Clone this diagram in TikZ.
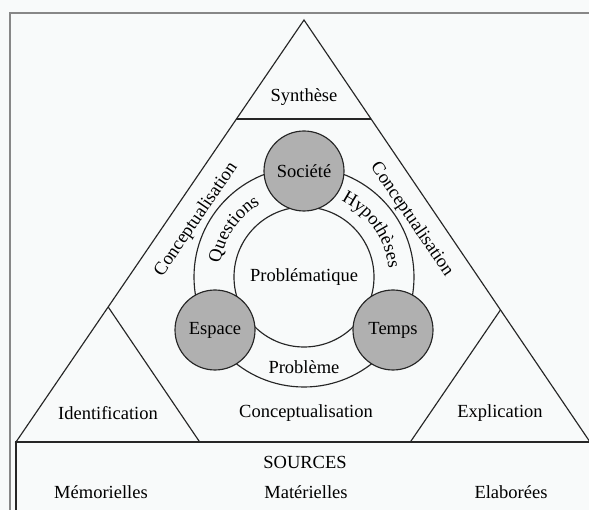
\documentclass[tikz,border=0pt]{standalone}
\usepackage{fontspec}
\setmainfont{Liberation Serif}
\usetikzlibrary{decorations.text,calc}
\definecolor{bgcol}{RGB}{248,250,250}
\definecolor{framecol}{RGB}{135,135,135}
\definecolor{hubfill}{RGB}{176,176,176}
\newcommand{\qfont}{\fontsize{18.5}{20}\selectfont}
\begin{document}
\begin{tikzpicture}[x=1pt,y=1pt,
  lbl/.style={font=\qfont, inner sep=0pt},
  ln/.style={line width=1.15pt, draw=black!85},
  framebox/.style={line width=1.6pt, draw=framecol},
  hub/.style={circle, draw=black!85, line width=1.15pt, fill=hubfill,
    minimum size=80pt, inner sep=0pt, font=\qfont},
  curved/.style={decorate, decoration={text along path, text align=center, text={|\qfont|#1}}}
  ]
\useasboundingbox (0,0) rectangle (589,-510);
\fill[bgcol] (0,0) rectangle (589,-510);
\begin{scope}
  \clip (0,0) rectangle (589,-510);
  \draw[framebox] (10,-13) rectangle (620,-540);
  \draw[ln] (16,-442) rectangle (620,-540);
\end{scope}
% big triangle
\coordinate (A) at (304,-20);
\coordinate (L) at (16,-442);
\coordinate (R) at (590,-442);
\draw[ln] (A) -- (L) -- (R) -- cycle;
% Synthese line
\coordinate (S1) at ($(A)!0.2346!(L)$);
\coordinate (S2) at ($(A)!0.2346!(R)$);
\draw[ln] (S1) -- (S2);
% small triangles
\coordinate (LA) at ($(A)!0.680!(L)$);
\coordinate (LB) at ($(L)!0.320!(R)$);
\draw[ln] (LA) -- (LB);
\coordinate (RA) at ($(A)!0.687!(R)$);
\coordinate (RB) at ($(R)!0.313!(L)$);
\draw[ln] (RA) -- (RB);
% side labels along the triangle sides
\coordinate (CL1) at (155,-288);
\coordinate (CL2) at (245,-156);
\coordinate (CR1) at (363,-156);
\coordinate (CR2) at (453,-288);
\path[curved=Conceptualisation] (CL1) -- (CL2);
\path[curved=Conceptualisation] (CR1) -- (CR2);
% ring
\coordinate (O) at (304,-277);
\draw[ln] (O) circle[radius=110];
\draw[ln] (O) circle[radius=70];
\path[curved=Questions] ($(O)+(196:85)$) arc[start angle=196, end angle=96, radius=85];
\path[curved=Hypothèses] ($(O)+(86:85)$) arc[start angle=86, end angle=-16, radius=85];
% hubs
\node[hub] (soc) at (304,-171) {Société};
\node[hub] (esp) at (215,-330) {Espace};
\node[hub] (tem) at (393,-330) {Temps};
\node[lbl] (prob) at (304,-277) {Problématique};
\node[lbl] (pb) at (304,-367) {Problème};
% labels
\node[lbl] (syn) at (304,-97) {Synthèse};
\node[lbl] (id) at (108,-413) {Identification};
\node[lbl] (cb) at (306,-413) {Conceptualisation};
\node[lbl] (ex) at (500,-413) {Explication};
\node[lbl] (src) at (305,-462) {SOURCES};
\node[lbl] (mem) at (101,-492) {Mémorielles};
\node[lbl] (mat) at (306,-492) {Matérielles};
\node[lbl] (ela) at (511,-492) {Elaborées};
\end{tikzpicture}
\end{document}
